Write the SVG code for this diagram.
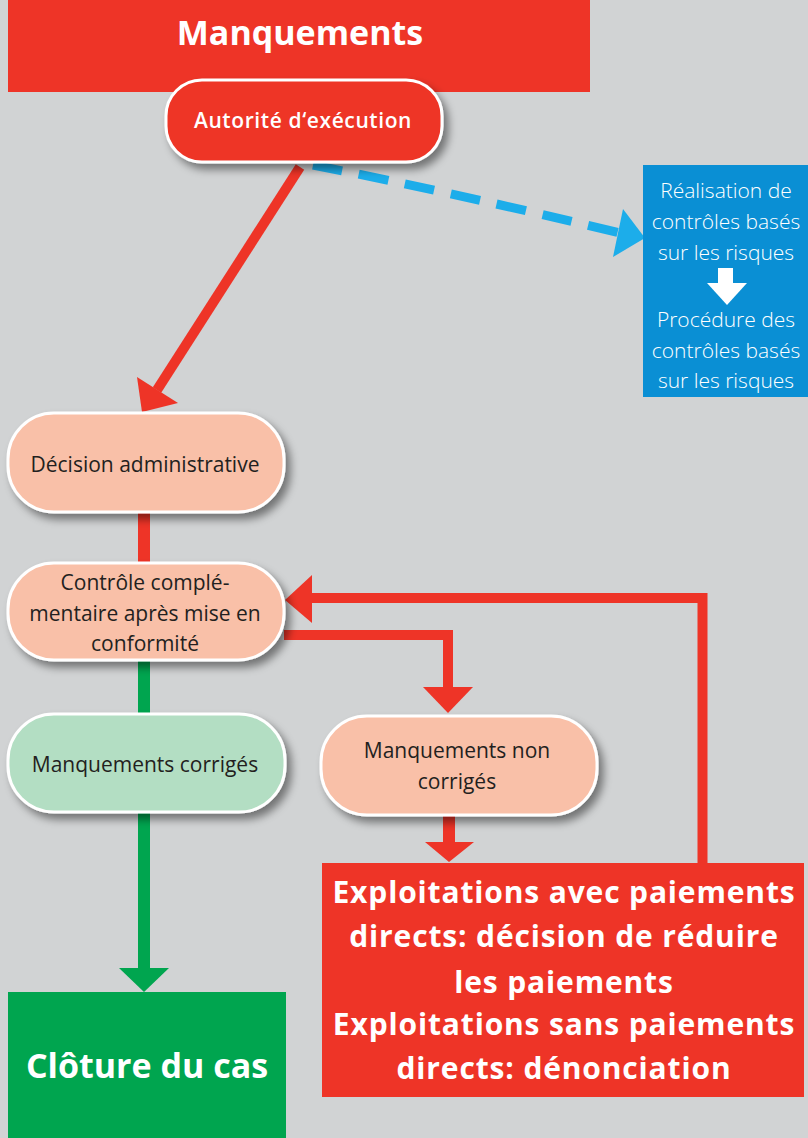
<svg xmlns="http://www.w3.org/2000/svg" width="808" height="1138" viewBox="0 0 808 1138">
<style>
.t{font-family:"Open Sans","Noto Sans","Liberation Sans",sans-serif;text-anchor:middle}
.w{fill:#ffffff}
.k{fill:#231f20}
.n{font-size:21px}
.bl{font-size:21px;font-weight:300}
.big{font-size:34px;font-weight:700}
.rb{font-size:30px;font-weight:700;letter-spacing:0.85px}
.node{stroke:#ffffff;stroke-width:3}
.red{fill:#ee3427}
.sal{fill:#f9c0a8}
.lg{fill:#b3dec3}
.ln{fill:none;stroke-linejoin:miter}
</style>
<defs>
<filter id="sh" x="-20%" y="-20%" width="150%" height="160%">
<feDropShadow dx="5" dy="6" stdDeviation="4" flood-color="#000000" flood-opacity="0.45"/>
</filter>
</defs>
<rect x="0" y="0" width="808" height="1138" fill="#d1d3d4"/>

<g id="connectors">
<line x1="300" y1="167" x2="157" y2="390" stroke="#ee3427" stroke-width="10"/>
<polygon points="142,412 137,377 178,403" fill="#ee3427"/>
<path d="M313,165 Q455,193 620,233" class="ln" stroke="#1cadea" stroke-width="9" stroke-dasharray="30 17"/>
<polygon points="645,238 623,209 613,257" fill="#1cadea"/>
<line x1="144" y1="512" x2="144" y2="563" stroke="#ee3427" stroke-width="12"/>
<line x1="144" y1="660" x2="144" y2="715" stroke="#00a54f" stroke-width="12"/>
<line x1="144" y1="812" x2="144" y2="970" stroke="#00a54f" stroke-width="12"/>
<polygon points="119,968 169,968 144,992" fill="#00a54f"/>
<polyline points="284,635 448,635 448,690" class="ln" stroke="#ee3427" stroke-width="10"/>
<polygon points="423,687 473,687 448,713" fill="#ee3427"/>
<line x1="449" y1="815" x2="449" y2="844" stroke="#ee3427" stroke-width="12"/>
<polygon points="425,842 474,842 449,862" fill="#ee3427"/>
<polyline points="702.5,864 702.5,598 310,598" class="ln" stroke="#ee3427" stroke-width="10"/>
<polygon points="285,600 312,575 312,623" fill="#ee3427"/>
</g>

<g id="title">
<rect x="8" y="0" width="582" height="92" class="red"/>
<text x="300" y="45" class="t w big">Manquements</text>
</g>

<g id="autorite">
<rect x="166" y="80" width="276" height="82" rx="36" class="red node" filter="url(#sh)"/>
<text x="303" y="128" class="t w" style="font-size:21px;font-weight:600;letter-spacing:0.6px">Autorité d‘exécution</text>
</g>

<g id="risques">
<rect x="643" y="165" width="165" height="232" fill="#0a8fd4"/>
<text class="t w bl"><tspan x="726" y="198">Réalisation de</tspan><tspan x="726" y="229">contrôles basés</tspan><tspan x="726" y="260">sur les risques</tspan></text>
<rect x="718" y="268" width="15" height="16" fill="#ffffff"/>
<polygon points="707,283 747,283 727,305" fill="#ffffff"/>
<text class="t w bl"><tspan x="726" y="327">Procédure des</tspan><tspan x="726" y="358">contrôles basés</tspan><tspan x="726" y="388">sur les risques</tspan></text>
</g>

<g id="decision">
<rect x="8" y="413" width="276" height="99" rx="46" class="sal node" filter="url(#sh)"/>
<text x="145" y="472" class="t k n">Décision administrative</text>
</g>

<g id="controle">
<rect x="8" y="563" width="276" height="97" rx="46" class="sal node" filter="url(#sh)"/>
<text class="t k n"><tspan x="145" y="590">Contrôle complé-</tspan><tspan x="145" y="621">mentaire après mise en</tspan><tspan x="145" y="651">conformité</tspan></text>
</g>

<g id="corriges">
<rect x="8" y="714" width="277" height="98" rx="46" class="lg node" filter="url(#sh)"/>
<text x="145" y="772" class="t k n">Manquements corrigés</text>
</g>

<g id="noncorriges">
<rect x="321" y="716" width="276" height="99" rx="46" class="sal node" filter="url(#sh)"/>
<text class="t k n"><tspan x="457" y="758">Manquements non</tspan><tspan x="457" y="789">corrigés</tspan></text>
</g>

<g id="cloture">
<rect x="8" y="992" width="278" height="146" fill="#00a54f"/>
<text x="147" y="1078" class="t w big">Clôture du cas</text>
</g>

<g id="sanction">
<rect x="322" y="863" width="482" height="234" class="red"/>
<text class="t w rb"><tspan x="564" y="903">Exploitations avec paiements</tspan><tspan x="564" y="947">directs: décision de réduire</tspan><tspan x="564" y="993">les paiements</tspan><tspan x="564" y="1035">Exploitations sans paiements</tspan><tspan x="564" y="1079">directs: dénonciation</tspan></text>
</g>
</svg>
